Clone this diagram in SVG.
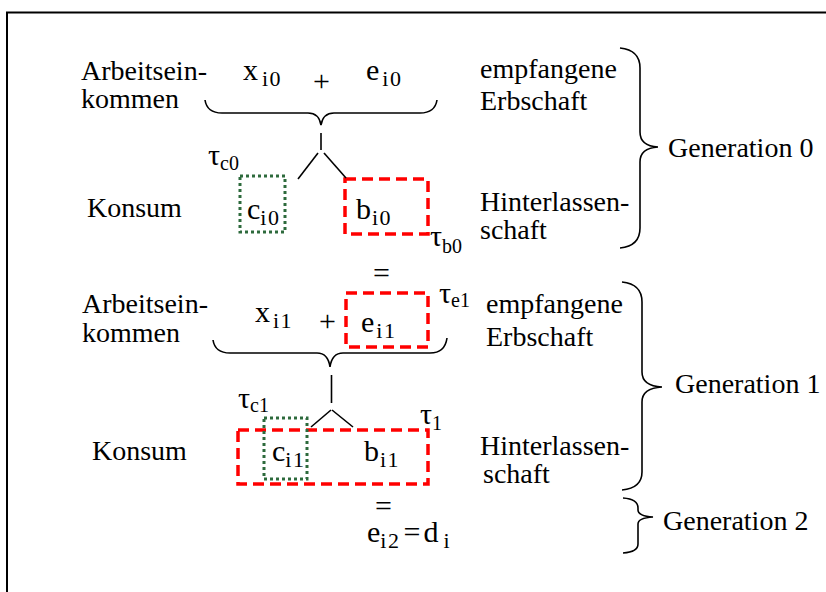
<svg xmlns="http://www.w3.org/2000/svg" width="826" height="592" viewBox="0 0 826 592">
<style>
text{font-family:'Liberation Serif','Times New Roman','DejaVu Serif',serif;fill:#000}
.lbl{font-size:28px}
.m{font-size:30px}
.sub{font-size:20px}
.si{font-size:22px;letter-spacing:1.5px}
.br{fill:none;stroke:#000;stroke-width:1.6}
.ln{stroke:#000;stroke-width:1.6}
.red{fill:none;stroke:#ff0000;stroke-width:3.5;stroke-dasharray:11 6}
.grn{fill:none;stroke:#2d6a3c;stroke-width:3;stroke-dasharray:3 3}
</style>
<rect width="826" height="592" fill="#fff"/>
<g id="frame"><path d="M7,592 L7,12.5 L826,12.5" fill="none" stroke="#000" stroke-width="2"/></g>
<g font-family="Liberation Serif, serif">
<g id="labels0">
<text class="lbl" x="81" y="80">Arbeitsein-</text>
<text class="lbl" x="81" y="108">kommen</text>
<text class="lbl" x="480" y="78">empfangene</text>
<text class="lbl" x="480" y="110">Erbschaft</text>
<text class="lbl" x="87" y="217">Konsum</text>
<text class="lbl" x="480" y="211">Hinterlassen-</text>
<text class="lbl" x="480" y="239">schaft</text>
<text class="lbl" x="668" y="157">Generation 0</text>
</g>
<g id="labels1">
<text class="lbl" x="82" y="313">Arbeitsein-</text>
<text class="lbl" x="82" y="342">kommen</text>
<text class="lbl" x="486" y="313">empfangene</text>
<text class="lbl" x="486" y="346">Erbschaft</text>
<text class="lbl" x="92" y="460">Konsum</text>
<text class="lbl" x="480" y="455">Hinterlassen-</text>
<text class="lbl" x="483" y="483">schaft</text>
<text class="lbl" x="675" y="393">Generation 1</text>
<text class="lbl" x="663" y="530">Generation 2</text>
</g>

<g id="x_i0"><text class="m" x="243" y="80">x<tspan class="si" dx="4" dy="6">i0</tspan></text></g>
<g id="plus0"><text class="m" x="313" y="91">+</text></g>
<g id="e_i0"><text class="m" x="366" y="80">e<tspan class="si" dx="3" dy="6">i0</tspan></text></g>
<g id="tau_c0"><text class="m" x="208" y="165">τ<tspan class="sub" dy="5">c0</tspan></text></g>
<g id="c_i0"><rect class="grn" x="240" y="176" width="45" height="56"/><text class="m" x="247" y="219">c<tspan class="si" dx="0" dy="6">i0</tspan></text></g>
<g id="b_i0"><rect class="red" x="345" y="179" width="83" height="55"/><text class="m" x="356" y="219">b<tspan class="si" dx="1" dy="6">i0</tspan></text></g>
<g id="tau_b0"><text class="m" x="430" y="246">τ<tspan class="sub" dy="7">b0</tspan></text></g>
<g id="eq0"><text class="m" x="373" y="283">=</text></g>

<g id="x_i1"><text class="m" x="255" y="322">x<tspan class="si" dx="3" dy="6">i1</tspan></text></g>
<g id="plus1"><text class="m" x="319" y="331">+</text></g>
<g id="e_i1"><rect class="red" x="346" y="293" width="82" height="54"/><text class="m" x="361" y="332">e<tspan class="si" dx="2" dy="6">i1</tspan></text></g>
<g id="tau_e1"><text class="m" x="439" y="303">τ<tspan class="sub" dy="4">e1</tspan></text></g>
<g id="tau_c1"><text class="m" x="238" y="408">τ<tspan class="sub" dy="4">c1</tspan></text></g>
<g id="tau_1"><text class="m" x="420" y="424">τ<tspan class="sub" dy="6">1</tspan></text></g>
<g id="b_i1"><rect class="red" x="238" y="430" width="190" height="54"/><text class="m" x="364" y="461">b<tspan class="si" dx="1" dy="6">i1</tspan></text></g>
<g id="c_i1"><rect class="grn" x="264" y="418" width="43" height="61"/><text class="m" x="272" y="461">c<tspan class="si" dx="0" dy="6">i1</tspan></text></g>
<g id="eq1"><text class="m" x="375" y="516">=</text></g>
<g id="e_i2"><text class="m" x="367" y="542">e<tspan class="si" dx="0" dy="6">i2</tspan><tspan dx="3" dy="-6">=</tspan><tspan dx="3">d</tspan><tspan class="si" dx="5" dy="6">i</tspan></text></g>
</g>
<g id="connectors">
<path class="br" d="M205,100 Q207,113 222,113 L308,113 Q319,113 321,125 Q323,113 334,113 L420,113 Q435,113 437,100"/>
<line class="ln" x1="321" y1="133" x2="321" y2="150"/>
<line class="ln" x1="318" y1="153" x2="298" y2="179"/>
<line class="ln" x1="324" y1="153" x2="346" y2="178"/>
<path class="br" d="M213,340 Q215,353 230,353 L317,353 Q328,353 330,367 Q332,353 343,353 L430,353 Q445,353 447,338"/>
<line class="ln" x1="331.5" y1="375" x2="331.5" y2="403"/>
<line class="ln" x1="331" y1="410" x2="311" y2="427"/>
<line class="ln" x1="332" y1="410" x2="353" y2="427"/>
<path class="br" d="M620,48 Q640,50 640,68 L640,132 Q640,146 658,147 Q640,148 640,162 L640,228 Q640,246 620,248"/>
<path class="br" d="M622,282 Q642,284 642,302 L642,372 Q642,386 662,387 Q642,388 642,402 L642,472 Q642,488 622,490"/>
<path class="br" d="M623,498 Q638,499 638,508 L638,510 Q638,516 653,517 Q638,518 638,524 L638,544 Q638,552 623,553"/>
</g>
</svg>
